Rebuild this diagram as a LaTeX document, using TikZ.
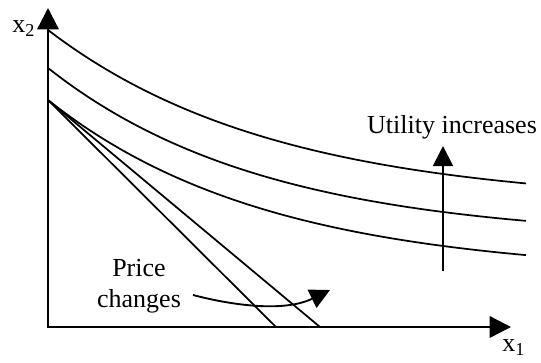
\documentclass[tikz,border=0pt]{standalone}
\usepackage{fontspec}
\setmainfont{Liberation Serif}
\usetikzlibrary{arrows.meta}
\begin{document}
\begin{tikzpicture}[x=0.75pt,y=-0.75pt,
  axis/.style={line width=1.8pt, {Triangle[length=16pt,width=16pt]}-{Triangle[length=16pt,width=16pt]}},
  curve/.style={line width=1.3pt},
  lab/.style={font=\fontsize{19.5}{23.25}\selectfont, inner sep=0pt},
  arr/.style={line width=1.4pt, -{Triangle[length=15pt,width=15pt]}}]
\useasboundingbox (0,0) rectangle (541,362);
\coordinate (O) at (48,327);
\coordinate (Y) at (48,8);
\coordinate (X) at (511,327);
\coordinate (B) at (48,100);
\coordinate (B1) at (276,327);
\coordinate (B2) at (320,327);
% budget lines
\draw[curve] (B) -- (B1);
\draw[curve] (B) -- (B2);
% indifference curves
\draw[curve] plot[domain=48:526,samples=120,smooth] (\x,{205-175*exp(-0.00438*(\x-48))});
\draw[curve] plot[domain=48:526,samples=120,smooth] (\x,{240-172*exp(-0.0046*(\x-48))});
\draw[curve] plot[domain=48:526,samples=120,smooth] (\x,{275-175*exp(-0.00455*(\x-48))});
% axes
\draw[axis] (Y) -- (O) -- (X);
\node[lab, anchor=base west] (x2) at (12,32) {x\textsubscript{2}};
\node[lab, anchor=base west] (x1) at (502,351) {x\textsubscript{1}};
% utility
\node[lab, anchor=base] (ut) at (452,133) {Utility increases};
\coordinate (u0) at (443,271);
\coordinate (u1) at (443,146);
\draw[arr] (u0) -- (u1);
% price changes
\node[lab, align=center] (pc) at (139,286.5) {Price\\changes};
\coordinate (p0) at (193,295);
\coordinate (p1) at (330,290);
\draw[arr] (p0) .. controls (235,306) and (285,312) .. (p1);
\end{tikzpicture}
\end{document}
